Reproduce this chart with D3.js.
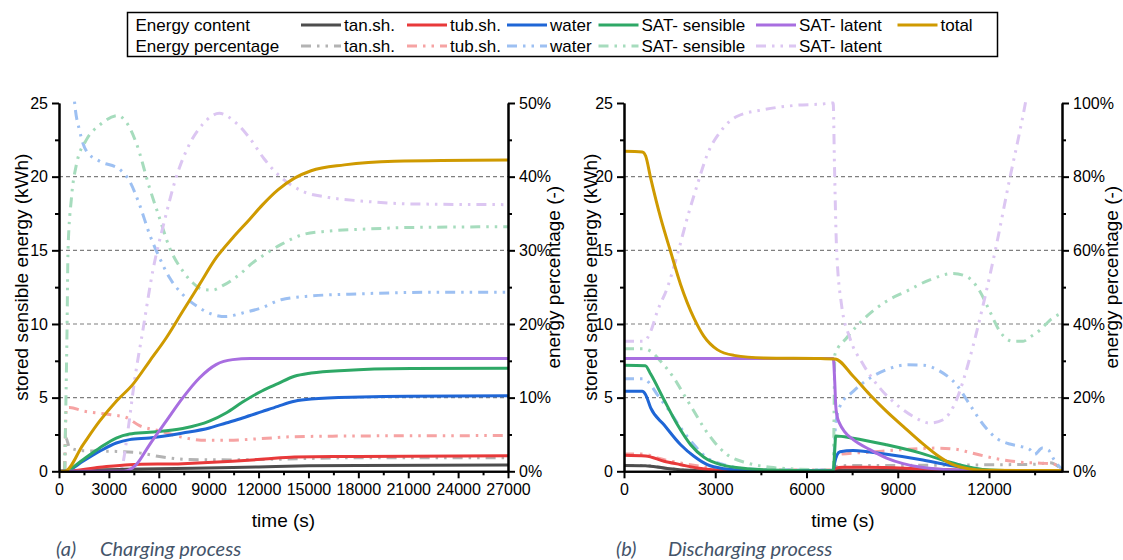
<!DOCTYPE html>
<html>
<head>
<meta charset="utf-8">
<script src="https://cdn.jsdelivr.net/npm/d3@7"></script>
<style>
  body { margin: 0; background: #fff; }
  svg text { font-family: "Liberation Sans", Arial, sans-serif; fill: #000; }
  .axis path, .axis line { stroke: #000; stroke-width: 2; }
  .axis text { font-size: 16px; }
  .grid line { stroke: #7f7f7f; stroke-width: 1.2; stroke-dasharray: 4,3; }
  .axis-title { font-size: 19px; }
  .legend text { font-size: 17px; }
  .caption { font-family: Lato, "Open Sans", sans-serif !important; font-style: italic; font-size: 20px; fill: #44546a !important; }
</style>
</head>
<body>
<svg id="chart" width="1123" height="560"></svg>
<script>
// ---- data: [time (s), value] ----
// charging, stored energy (kWh)
const chargeTan = [[0,0],[342,0],[2000,0.08],[4000,0.14],[8000,0.2],[12000,0.3],[15000,0.37],[18000,0.4],[27000,0.42]];
const chargeTub = [[0,0],[342,0],[2442,0.27],[4242,0.45],[7440,0.52],[10440,0.68],[12342,0.83],[14160,0.97],[18000,1.01],[27000,1.05]];
const chargeWater = [[0,0],[342,0],[1440,0.68],[2442,1.36],[3444,1.92],[4242,2.15],[5442,2.26],[7440,2.6],[9042,2.94],[10044,3.28],[11040,3.62],[12200,4.05],[13164,4.41],[14160,4.75],[15162,4.9],[18160,5.04],[21000,5.1],[27000,5.13]];
const chargeSatS = [[0,0],[342,0],[1440,0.79],[2442,1.58],[3444,2.26],[4242,2.53],[5442,2.65],[7440,2.9],[9042,3.4],[10044,3.96],[11040,4.7],[12200,5.45],[13164,5.95],[14160,6.45],[15162,6.67],[17160,6.85],[21160,6.97],[27000,7.0]];
const chargeSatL = [[0,0],[3900,0],[4644,0.45],[5442,1.8],[6444,3.4],[7440,4.98],[8442,6.33],[9444,7.24],[10440,7.58],[11500,7.65],[27000,7.65]];
const chargeTotal = [[0,0],[342,0],[1440,1.8],[2442,3.4],[3444,4.75],[4440,5.9],[5442,7.47],[6444,9.05],[7440,10.86],[8442,12.67],[9444,14.48],[10440,15.84],[11442,17.08],[12250,18.1],[13164,19.1],[14160,19.9],[15162,20.4],[17160,20.8],[20160,21.05],[27000,21.13]];

// charging, energy percentage (%)
const chargeTanPct = [[342,0],[400,4.6],[642,3.2],[1440,2.8],[3444,2.7],[4842,2.5],[6042,2.0],[7842,1.6],[10440,1.55],[12200,1.6],[18160,1.85],[27000,1.85]];
const chargeTubPct = [[342,0],[444,8.6],[642,8.65],[1440,8.2],[3042,7.7],[4044,7.3],[4842,6.2],[6042,5.5],[7440,4.6],[8844,4.2],[10044,4.2],[12200,4.45],[14160,4.7],[18160,4.8],[27000,4.85]];
const chargeWaterPct = [[700,58],[942,50],[1242,46.2],[1644,43.5],[2442,42.1],[3642,41.0],[4242,39.4],[4842,36.2],[5442,32.2],[6042,29.0],[6642,26.3],[7440,24.0],[8442,22.2],[9240,21.3],[10044,21.0],[11040,21.5],[12200,22.2],[13362,23.3],[15162,23.8],[18160,24.1],[22160,24.3],[27000,24.3]];
const chargeSatSPct = [[342,0],[420,10],[482,19],[542,30],[744,37],[1044,41.6],[1644,45.0],[2442,47.0],[3540,48.3],[4044,47.4],[4642,44.6],[5442,38.5],[6042,34.4],[6642,30.4],[7440,27.2],[8040,25.6],[8640,24.7],[9240,24.6],[9840,25.2],[10842,26.7],[11640,28.3],[12342,29.4],[13362,30.8],[14760,32.2],[16160,32.6],[18160,32.85],[21160,33.1],[27000,33.2]];
const chargeSatLPct = [[342,0],[3600,0],[3744,0.3],[4142,5.5],[4542,12.3],[5040,19.1],[5640,27.2],[6342,34.0],[7044,39.9],[7842,44.4],[8640,47.1],[9642,48.6],[10644,47.3],[11442,45.3],[12342,42.4],[13162,40.3],[14562,38.1],[16160,37.2],[18160,36.7],[21160,36.3],[27000,36.2]];

// discharging, stored energy (kWh)
const dischargeTan = [[0,0.4],[700,0.38],[1315,0.22],[2000,0.08],[3000,0.02],[6880,0.01],[6930,0.08],[9000,0.07],[11000,0.04],[13000,0.01],[14400,0]];
const dischargeTub = [[0,1.09],[712,1.04],[1315,0.68],[1863,0.45],[2410,0.22],[3000,0.08],[4000,0.02],[6880,0.01],[6930,0.2],[7200,0.28],[8000,0.28],[9700,0.18],[11000,0.08],[12500,0.02],[14400,0]];
const dischargeWater = [[0,5.43],[600,5.43],[712,5.2],[877,4.3],[1315,3.16],[1863,1.8],[2300,1.02],[2738,0.45],[3285,0.18],[4000,0.07],[6880,0.03],[6930,0.6],[7000,1.1],[7100,1.33],[7535,1.42],[8632,1.15],[9727,0.8],[10604,0.45],[11261,0.2],[12000,0.06],[14400,0]];
const dischargeSatS = [[0,7.2],[700,7.17],[877,6.6],[1315,4.86],[1753,3.17],[2191,1.8],[2629,0.95],[3177,0.45],[4052,0.18],[5148,0.07],[6880,0.03],[6930,1.5],[6960,2.4],[7535,2.25],[8632,1.8],[9727,1.25],[10604,0.68],[11261,0.32],[11900,0.1],[13000,0.03],[14400,0]];
const dischargeSatL = [[0,7.65],[6880,7.65],[6930,6.0],[6960,4.5],[7000,3.8],[7100,3.2],[7250,2.7],[7535,2.15],[8084,1.47],[8632,0.9],[9178,0.52],[9727,0.29],[10800,0.08],[12000,0.02],[14400,0]];
const dischargeTotal = [[0,21.72],[603,21.68],[712,21.4],[877,19.9],[1205,17.2],[1534,14.9],[1863,12.67],[2300,10.4],[2629,9.16],[3066,8.26],[3614,7.87],[4600,7.69],[6463,7.65],[6933,7.63],[7535,6.45],[8084,5.2],[8632,4.07],[9178,3.05],[9727,2.04],[10275,1.13],[10820,0.45],[11370,0.16],[11918,0.07],[14400,0.05]];

// discharging, energy percentage (%)
const dischargeTanPct = [[0,1.6],[700,1.6],[1315,0.9],[2000,0.4],[3000,0.3],[6880,0.3],[6930,1.3],[7500,1.6],[9000,1.6],[11000,1.7],[12500,1.8],[13500,1.9],[14000,2.3],[14400,0.5]];
const dischargeTubPct = [[0,4.7],[650,4.7],[1095,3.6],[1863,2.25],[2519,1.35],[3200,0.6],[4000,0.4],[6880,0.35],[6930,3.5],[7100,4.6],[8084,5.2],[9178,5.9],[10275,6.3],[10900,6.0],[11370,5.1],[12246,3.4],[13013,2.5],[13700,2.2],[14100,2.0],[14400,0.3]];
const dischargeWaterPct = [[0,25.1],[650,25.1],[877,23.5],[1095,20.8],[1423,17.2],[1863,11.8],[2300,7.2],[2738,3.6],[3286,1.8],[4000,0.7],[5000,0.4],[6880,0.35],[6950,12],[7097,17.6],[7535,21.7],[8084,25.3],[8632,27.6],[9289,28.9],[9836,28.8],[10384,27.2],[10931,23.5],[11370,18.1],[11808,12.7],[12246,9.0],[12685,7.4],[13013,6.8],[13341,5.9],[13500,4.6],[13750,6.3],[13950,5.8],[14150,3],[14400,0.5]];
const dischargeSatSPct = [[0,33.3],[650,33.3],[877,32.6],[1205,29.9],[1643,25.3],[1972,20.8],[2300,16.3],[2629,11.8],[2957,8.1],[3395,4.5],[4052,2.25],[4820,1.1],[5700,0.6],[6880,0.4],[6933,31.7],[7318,36.2],[7864,41.2],[8632,46.2],[9289,48.9],[10055,52.0],[10820,53.7],[11259,52.9],[11698,48.9],[12027,43.4],[12355,38.0],[12793,35.3],[13122,35.3],[13341,36.4],[13700,38.5],[14000,41],[14400,43]];
const dischargeSatLPct = [[0,35.3],[657,35.3],[877,38.0],[1095,43.4],[1423,49.8],[1753,58.8],[2081,68.8],[2410,77.8],[2738,86.0],[3177,92.3],[3724,96.4],[4600,98.2],[5695,99.4],[6463,99.7],[6877,100],[6920,83],[6988,60.6],[7152,45.2],[7426,36.2],[7864,29],[8412,22.6],[8960,18.1],[9507,14.9],[10055,13.1],[10493,14.0],[10931,19.4],[11370,30.8],[11808,45.2],[12246,61.5],[12685,79.6],[13013,92.3],[13177,99.1],[13400,110]];

const seriesNames = ["tan.sh.", "tub.sh.", "water", "SAT- sensible", "SAT- latent", "total"];
const energyTicks = [0, 5, 10, 15, 20, 25];
const gridTicks = [5, 10, 15, 20];

// ---- styles ----
const solidColors = ["#4d4d4d", "#e8393a", "#1f66d6", "#2ea866", "#a86ee0", "#cf9a00"];
const pctColors = ["#b3b3b3", "#f6a3a3", "#9dc0f2", "#a6dcbd", "#dcc6f2"];
const dashPattern = "10,6,2.5,6,2.5,6";

const svg = d3.select("#chart");
const plotTop = 103;
const plotBottom = 471.3;

const panels = [
  {
    left: 59, right: 508, xMax: 27000, pctMax: 50, pctStep: 10,
    energy: [chargeTan, chargeTub, chargeWater, chargeSatS, chargeSatL, chargeTotal],
    pct: [chargeTanPct, chargeTubPct, chargeWaterPct, chargeSatSPct, chargeSatLPct],
    leftTitleX: 21, rightTitleX: 553,
    capLetter: "(a)", capText: "Charging process", capX: 56, capTextX: 100,
  },
  {
    left: 624, right: 1062, xMax: 14400, pctMax: 100, pctStep: 20,
    energy: [dischargeTan, dischargeTub, dischargeWater, dischargeSatS, dischargeSatL, dischargeTotal],
    pct: [dischargeTanPct, dischargeTubPct, dischargeWaterPct, dischargeSatSPct, dischargeSatLPct],
    leftTitleX: 590, rightTitleX: 1111,
    capLetter: "(b)", capText: "Discharging process", capX: 616, capTextX: 668,
  },
];

function drawPanel(cfg, idx) {
  const x = d3.scaleLinear().domain([0, cfg.xMax]).range([cfg.left, cfg.right]);
  const yE = d3.scaleLinear().domain([0, 25]).range([plotBottom, plotTop]);
  const yP = d3.scaleLinear().domain([0, cfg.pctMax]).range([plotBottom, plotTop]);
  const g = svg.append("g");

  const clipId = "clip" + idx;
  svg.append("clipPath").attr("id", clipId)
    .append("rect")
    .attr("x", cfg.left).attr("y", plotTop - 2)
    .attr("width", cfg.right - cfg.left).attr("height", plotBottom - plotTop + 4);

  g.append("g").attr("class", "grid")
    .selectAll("line").data(gridTicks).join("line")
    .attr("x1", cfg.left).attr("x2", cfg.right)
    .attr("y1", (d) => yE(d)).attr("y2", (d) => yE(d));

  const plot = g.append("g").attr("clip-path", `url(#${clipId})`);
  const lineE = d3.line().curve(d3.curveMonotoneX).x((d) => x(d[0])).y((d) => yE(d[1]));
  const lineP = d3.line().curve(d3.curveMonotoneX).x((d) => x(d[0])).y((d) => yP(d[1]));

  plot.selectAll("path.pct").data(cfg.pct).join("path")
    .attr("class", "pct")
    .attr("fill", "none")
    .attr("stroke", (d, i) => pctColors[i])
    .attr("stroke-width", 3)
    .attr("stroke-dasharray", dashPattern)
    .attr("d", lineP);

  plot.selectAll("path.energy").data(cfg.energy).join("path")
    .attr("class", "energy")
    .attr("fill", "none")
    .attr("stroke", (d, i) => solidColors[i])
    .attr("stroke-width", 3)
    .attr("stroke-linejoin", "round")
    .attr("d", lineE);

  // axes
  const xTicks = d3.range(0, cfg.xMax + 1, 3000);
  const xMinor = d3.range(1500, cfg.xMax, 3000);
  g.append("g").attr("class", "axis")
    .attr("transform", `translate(0,${plotBottom})`)
    .call(d3.axisBottom(x).tickValues(xMinor).tickSize(4).tickSizeOuter(0).tickFormat(""));
  g.append("g").attr("class", "axis")
    .attr("transform", `translate(0,${plotBottom})`)
    .call(d3.axisBottom(x).tickValues(xTicks).tickSize(7).tickSizeOuter(0).tickPadding(5).tickFormat(d3.format("d")));

  g.append("g").attr("class", "axis")
    .attr("transform", `translate(${cfg.left},0)`)
    .call(d3.axisLeft(yE).tickValues([2.5, 7.5, 12.5, 17.5, 22.5]).tickSize(4).tickSizeOuter(0).tickFormat(""));
  g.append("g").attr("class", "axis")
    .attr("transform", `translate(${cfg.left},0)`)
    .call(d3.axisLeft(yE).tickValues(energyTicks).tickSize(7).tickSizeOuter(0).tickPadding(4));

  const pctTicks = d3.range(0, cfg.pctMax + 1, cfg.pctStep);
  const pctMinor = d3.range(cfg.pctStep / 2, cfg.pctMax, cfg.pctStep);
  g.append("g").attr("class", "axis")
    .attr("transform", `translate(${cfg.right},0)`)
    .call(d3.axisRight(yP).tickValues(pctMinor).tickSize(4).tickSizeOuter(0).tickFormat(""));
  g.append("g").attr("class", "axis")
    .attr("transform", `translate(${cfg.right},0)`)
    .call(d3.axisRight(yP).tickValues(pctTicks).tickSize(7).tickSizeOuter(0).tickPadding(4).tickFormat((d) => d + "%"));

  const titleY = (plotTop + plotBottom) / 2 - 10;
  g.append("text").attr("class", "axis-title")
    .attr("transform", `translate(${cfg.leftTitleX},${titleY}) rotate(-90)`)
    .attr("text-anchor", "middle").attr("dy", "0.35em")
    .text("stored sensible energy (kWh)");
  g.append("text").attr("class", "axis-title")
    .attr("transform", `translate(${cfg.rightTitleX},${titleY}) rotate(-90)`)
    .attr("text-anchor", "middle").attr("dy", "0.35em")
    .text("energy percentage (-)");
  g.append("text").attr("class", "axis-title")
    .attr("x", (cfg.left + cfg.right) / 2).attr("y", 520)
    .attr("text-anchor", "middle").attr("dy", "0.35em")
    .text("time (s)");

  g.append("text").attr("class", "caption")
    .attr("x", cfg.capX).attr("y", 556).text(cfg.capLetter);
  g.append("text").attr("class", "caption")
    .attr("x", cfg.capTextX).attr("y", 556).text(cfg.capText);
}

panels.forEach(drawPanel);

// ---- legend ----
const legend = svg.append("g").attr("class", "legend");
legend.append("rect")
  .attr("x", 127.5).attr("y", 12.5).attr("width", 870).attr("height", 44)
  .attr("fill", "#fff").attr("stroke", "#000").attr("stroke-width", 1.5);

const legendX = [301, 407, 507, 598.5, 756, 897.5];
const rowY = [25, 46];
legend.append("text").attr("x", 135.5).attr("y", rowY[0]).attr("dy", "0.35em").text("Energy content");
legend.append("text").attr("x", 135.5).attr("y", rowY[1]).attr("dy", "0.35em").text("Energy percentage");

seriesNames.forEach((name, i) => {
  legend.append("line")
    .attr("x1", legendX[i]).attr("x2", legendX[i] + 40)
    .attr("y1", rowY[0]).attr("y2", rowY[0])
    .attr("stroke", solidColors[i]).attr("stroke-width", 3);
  legend.append("text").attr("x", legendX[i] + 43).attr("y", rowY[0]).attr("dy", "0.35em").text(name);
  if (i < pctColors.length) {
    legend.append("line")
      .attr("x1", legendX[i]).attr("x2", legendX[i] + 40)
      .attr("y1", rowY[1]).attr("y2", rowY[1])
      .attr("stroke", pctColors[i]).attr("stroke-width", 3)
      .attr("stroke-dasharray", dashPattern);
    legend.append("text").attr("x", legendX[i] + 43).attr("y", rowY[1]).attr("dy", "0.35em").text(name);
  }
});
</script>
</body>
</html>
